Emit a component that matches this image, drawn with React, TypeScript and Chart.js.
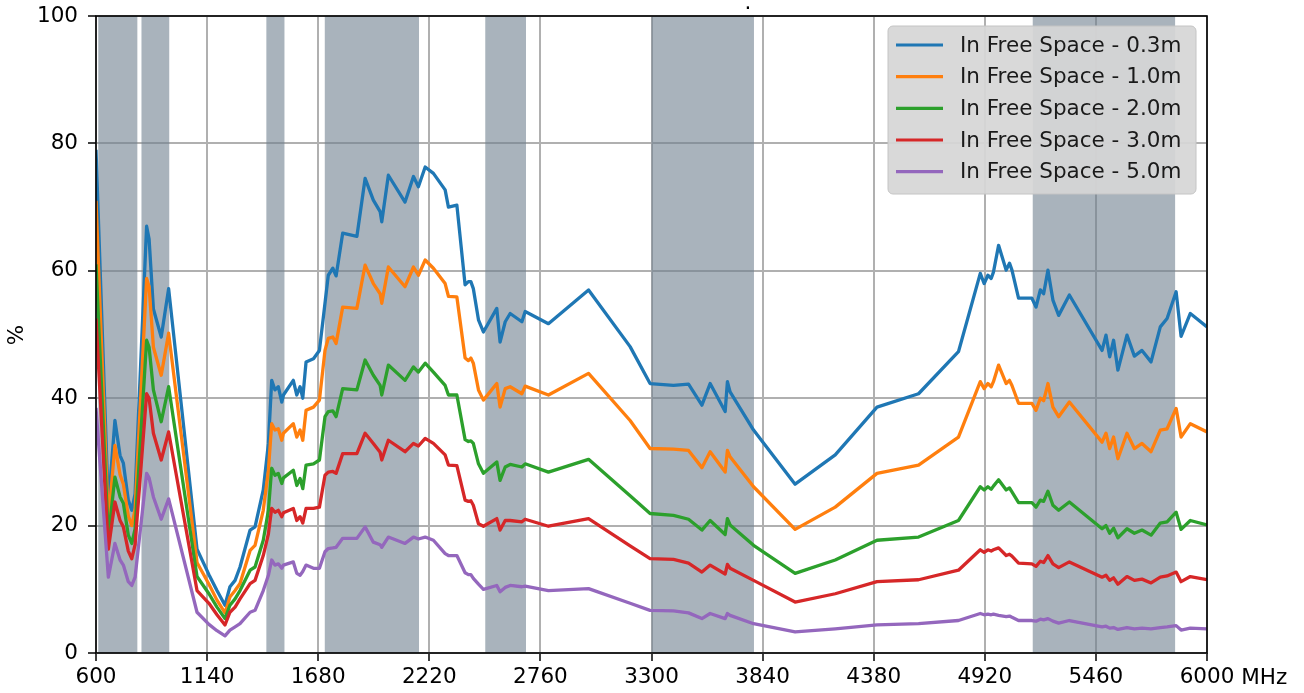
import React, { useEffect, useRef } from "react";
import { Chart, registerables } from "chart.js";

Chart.register(...registerables);

const frequencies = [
  600, 660, 692, 717, 733, 757, 774, 790, 846, 858,
  879, 917, 953, 1091, 1149, 1188, 1227, 1251, 1276, 1300,
  1349, 1373, 1413, 1438, 1454, 1470, 1486, 1503, 1511, 1559,
  1576, 1592, 1605, 1621, 1657, 1686, 1713, 1729, 1751, 1767,
  1799, 1868, 1908, 1948, 1981, 1989, 2021, 2102, 2143, 2167,
  2200, 2240, 2297, 2313, 2354, 2394, 2410, 2422, 2434, 2459,
  2483, 2548, 2564, 2589, 2613, 2670, 2686, 2799, 2994, 3196,
  3293, 3407, 3480, 3545, 3585, 3658, 3669, 3682, 3796, 3998,
  4193, 4396, 4598, 4792, 4898, 4917, 4935, 4951, 4962, 4987,
  5024, 5040, 5052, 5084, 5149, 5169, 5190, 5206, 5227, 5251,
  5279, 5331, 5490, 5509, 5527, 5546, 5567, 5611, 5647, 5684,
  5728, 5773, 5806, 5850, 5874, 5919, 6000,
];

const free03m = [
  79, 23, 36.5, 31, 29.8, 24, 22.4, 25, 67, 65,
  54, 49.6, 57.2, 16.3, 12.3, 9.8, 7.5, 10.4, 11.4, 13.5,
  19.3, 19.8, 25.6, 32.9, 42.8, 41.3, 41.8, 39.4, 40.5, 42.8,
  40.5, 41.8, 40, 45.7, 46.2, 47.5, 54.9, 59.3, 60.4, 59.2,
  65.9, 65.4, 74.5, 71.1, 69.3, 67.7, 75, 70.8, 74.8, 73.2,
  76.3, 75.3, 72.7, 70, 70.3, 57.8, 58.3, 58.3, 57.2, 52.3,
  50.4, 54.1, 48.8, 52, 53.3, 52, 53.6, 51.7, 57, 48.1,
  42.3, 42, 42.2, 38.9, 42.3, 37.9, 42.6, 41, 35, 26.5,
  31.1, 38.6, 40.7, 47.3, 59.6, 58, 59.3, 58.8, 59.8, 64,
  60.1, 61.2, 60.1, 55.7, 55.7, 54.3, 57, 56.4, 60.1, 55.4,
  53, 56.2, 47.5, 49.9, 46.5, 49.1, 44.4, 49.9, 46.6, 47.5,
  45.7, 51.2, 52.5, 56.7, 49.7, 53.3, 51.2,
];

const free10m = [
  71, 20.5, 32.6, 28, 26.5, 21.5, 20, 22.5, 58.8, 57.5,
  48, 43.6, 50.2, 14.2, 10.8, 8.3, 6.3, 8.8, 9.8, 10.9,
  16.1, 16.9, 22.4, 28.7, 36, 35, 35.2, 33.4, 34.5, 36,
  33.9, 35, 33.4, 38.1, 38.6, 39.7, 47.5, 49.4, 49.6, 48.6,
  54.3, 54.1, 60.9, 58, 56.4, 54.9, 60.6, 57.5, 60.6, 59.3,
  61.7, 60.4, 58, 56, 55.9, 46.3, 45.9, 46.3, 45.5, 41.3,
  39.7, 42.3, 38.6, 41.5, 41.8, 40.7, 41.9, 40.5, 43.9, 36.5,
  32.1, 32, 31.8, 29.1, 31.6, 28.4, 31.8, 30.8, 26.1, 19.4,
  22.9, 28.2, 29.5, 33.9, 42.6, 41.5, 42.3, 41.8, 42.6, 45.2,
  42.3, 42.8, 42, 39.2, 39.2, 38.1, 40, 39.6, 42.3, 38.6,
  37.1, 39.4, 33.1, 34.5, 32.1, 33.9, 30.5, 34.5, 32.1, 32.9,
  31.6, 35, 35.2, 38.4, 33.9, 36, 34.7,
];

const free20m = [
  61, 18.2, 27.6, 24.5, 23.5, 18.5, 17.2, 19.5, 49.1, 48,
  41.3, 36.3, 41.8, 12, 9.3, 7.2, 5.4, 7.5, 8.5, 9.8,
  13, 13.5, 17.7, 22.4, 29, 27.9, 28.2, 26.6, 27.5, 28.7,
  26.3, 27.4, 25.8, 29.5, 29.7, 30.3, 37.1, 37.9, 38, 37.1,
  41.5, 41.3, 46, 43.6, 42, 40.5, 45.2, 42.8, 44.9, 44.1,
  45.5, 44.1, 42, 40.5, 40.5, 33.5, 33.2, 33.3, 32.9, 29.7,
  28.2, 30, 27.1, 29.2, 29.6, 29.2, 29.7, 28.4, 30.4, 24.7,
  21.9, 21.6, 21, 19.3, 20.8, 18.6, 21.1, 20.1, 16.9, 12.5,
  14.6, 17.7, 18.2, 20.8, 26.1, 25.6, 26.1, 25.7, 26.2, 27.2,
  25.6, 25.9, 25.3, 23.6, 23.6, 22.9, 24, 23.8, 25.4, 23.2,
  22.4, 23.7, 19.5, 20, 18.8, 19.6, 18.1, 19.5, 18.8, 19.3,
  18.5, 20.4, 20.6, 22.1, 19.4, 20.8, 20.1,
];

const free30m = [
  52.5, 16.3, 23.7, 20.8, 19.8, 16, 14.8, 17, 40.7, 40,
  34.5, 30.3, 34.7, 9.8, 7.8, 6, 4.4, 6.4, 7.2, 8.5,
  10.9, 11.4, 15.3, 18.7, 22.7, 22.1, 22.4, 21.4, 22, 22.7,
  20.8, 21.4, 20.4, 22.7, 22.7, 22.9, 27.9, 28.4, 28.5, 28.2,
  31.3, 31.3, 34.5, 32.9, 31.5, 30.3, 33.4, 31.6, 32.9, 32.5,
  33.7, 32.9, 31.1, 29.5, 29.4, 24, 23.8, 23.9, 23.2, 20.3,
  19.9, 21.1, 19.3, 20.8, 20.8, 20.6, 21, 19.9, 21.1, 16.8,
  14.8, 14.7, 14.1, 12.7, 13.8, 12.4, 13.9, 13.3, 11.4, 8,
  9.3, 11.2, 11.5, 13, 16.2, 15.8, 16.2, 16, 16.2, 16.5,
  15.3, 15.5, 15.2, 14.1, 14, 13.6, 14.4, 14.2, 15.3, 14,
  13.4, 14.3, 11.9, 12.2, 11.4, 11.8, 10.8, 12, 11.4, 11.6,
  11, 11.9, 12.1, 12.7, 11.2, 12, 11.5,
];

const free50m = [
  38.5, 11.9, 17.2, 14.6, 13.8, 11.2, 10.6, 11.9, 28.2, 27.5,
  24.5, 21, 24.2, 6.4, 4.5, 3.5, 2.7, 3.6, 4.1, 4.6,
  6.4, 6.7, 9.8, 12.2, 14.6, 13.8, 14, 13.3, 13.8, 14.3,
  12.5, 12.2, 12.8, 13.8, 13.3, 13.3, 15.9, 16.4, 16.5, 16.6,
  18, 18, 19.8, 17.4, 17, 16.6, 18.2, 17.2, 18.2, 17.9,
  18.2, 17.7, 15.6, 15.3, 15.3, 12.6, 12.3, 12.3, 11.7, 10.8,
  10, 10.6, 9.6, 10.3, 10.6, 10.4, 10.5, 9.8, 10.1, 7.8,
  6.7, 6.6, 6.3, 5.4, 6.2, 5.4, 6.2, 5.9, 4.6, 3.3,
  3.8, 4.4, 4.6, 5.1, 6.2, 6, 6.1, 6, 6.1, 5.9,
  5.7, 5.8, 5.6, 5.1, 5.1, 5, 5.3, 5.2, 5.4, 5,
  4.7, 5.1, 4.1, 4.2, 3.9, 4, 3.7, 4, 3.8, 3.9,
  3.8, 4, 4.1, 4.3, 3.6, 3.9, 3.8,
];

const seriesLabels = [
  "In Free Space - 0.3m",
  "In Free Space - 1.0m",
  "In Free Space - 2.0m",
  "In Free Space - 3.0m",
  "In Free Space - 5.0m",
];
const seriesValues = [free03m, free10m, free20m, free30m, free50m];
const seriesColors = ["#1f77b4", "#ff7f0e", "#2ca02c", "#d62728", "#9467bd"];

const xTicks = [600, 1140, 1680, 2220, 2760, 3300, 3840, 4380, 4920, 5460, 6000];
const yTicks = [0, 20, 40, 60, 80, 100];
const xUnit = "MHz";
const yTitle = "%";
const topMark = ".";

const bandStarts = [611, 821, 1428, 1712, 2492, 3300, 5153];
const bandEnds = [801, 956, 1516, 2170, 2690, 3798, 5845];

const FONT = "21.5px 'DejaVu Sans'";

const decorPlugin = {
  id: "decor",
  beforeDatasetsDraw(chart: any) {
    const { ctx, chartArea, scales } = chart;
    ctx.save();
    ctx.fillStyle = "rgba(112,128,144,0.6)";
    for (let i = 0; i < bandStarts.length; i++) {
      const x1 = scales.x.getPixelForValue(bandStarts[i]);
      const x2 = scales.x.getPixelForValue(bandEnds[i]);
      ctx.fillRect(x1, chartArea.top, x2 - x1, chartArea.bottom - chartArea.top);
    }
    ctx.restore();
  },
  afterDraw(chart: any) {
    const { ctx, chartArea, scales } = chart;
    ctx.save();
    // frame
    ctx.strokeStyle = "#000";
    ctx.lineWidth = 1.6;
    ctx.strokeRect(chartArea.left, chartArea.top, chartArea.right - chartArea.left, chartArea.bottom - chartArea.top);

    ctx.font = FONT;
    ctx.fillStyle = "#000";
    // x unit after last tick label
    const lastX = scales.x.getPixelForValue(xTicks[xTicks.length - 1]);
    const wLast = ctx.measureText(String(xTicks[xTicks.length - 1])).width;
    const wSpace = ctx.measureText(" ").width;
    ctx.textAlign = "left";
    ctx.textBaseline = "middle";
    ctx.fillText(xUnit, lastX + wLast / 2 + wSpace, 678);

    // y title
    ctx.save();
    ctx.translate(17, 335);
    ctx.rotate(-Math.PI / 2);
    ctx.textAlign = "center";
    ctx.textBaseline = "middle";
    ctx.fillText(yTitle, 0, 0);
    ctx.restore();

    // top mark
    ctx.textAlign = "center";
    ctx.textBaseline = "alphabetic";
    ctx.fillText(topMark, 748, 9);

    // legend
    const lx = 888, ly = 26, lw = 308, lh = 168, r = 5;
    ctx.beginPath();
    ctx.moveTo(lx + r, ly);
    ctx.arcTo(lx + lw, ly, lx + lw, ly + lh, r);
    ctx.arcTo(lx + lw, ly + lh, lx, ly + lh, r);
    ctx.arcTo(lx, ly + lh, lx, ly, r);
    ctx.arcTo(lx, ly, lx + lw, ly, r);
    ctx.closePath();
    ctx.fillStyle = "rgba(214,214,214,0.93)";
    ctx.fill();
    ctx.strokeStyle = "#c4c4c4";
    ctx.lineWidth = 1;
    ctx.stroke();

    const rows = [45, 76.7, 108.3, 140, 171.7];
    for (let i = 0; i < seriesLabels.length; i++) {
      ctx.strokeStyle = seriesColors[i];
      ctx.lineWidth = 3.2;
      ctx.beginPath();
      ctx.moveTo(896, rows[i]);
      ctx.lineTo(943, rows[i]);
      ctx.stroke();
      ctx.fillStyle = "#1a1a1a";
      ctx.textAlign = "left";
      ctx.textBaseline = "middle";
      ctx.fillText(seriesLabels[i], 960, rows[i] + 1);
    }
    ctx.restore();
  },
};

export default function App() {
  const ref = useRef<HTMLCanvasElement>(null);

  useEffect(() => {
    document.body.style.margin = "0";
    const canvas = ref.current;
    if (!canvas) return;
    const datasets = seriesLabels.map((label, i) => ({
      label,
      data: frequencies.map((f, j) => ({ x: f, y: seriesValues[i][j] })),
      borderColor: seriesColors[i],
      backgroundColor: seriesColors[i],
      borderWidth: 3.3,
      pointRadius: 0,
      tension: 0,
      borderJoinStyle: "round" as const,
      order: seriesLabels.length - 1 - i,
    }));

    const chart = new Chart(canvas, {
      type: "line",
      data: { datasets },
      options: {
        animation: false,
        responsive: false,
        devicePixelRatio: 1,
        layout: { padding: { left: 0, right: 97, top: 16, bottom: 0 } },
        plugins: {
          legend: { display: false },
          tooltip: { enabled: false },
          title: { display: false },
        },
        scales: {
          x: {
            type: "linear",
            min: 600,
            max: 6000,
            afterBuildTicks: (s: any) => {
              s.ticks = xTicks.map((v) => ({ value: v }));
            },
            afterFit: (s: any) => {
              s.height = 40;
              s.paddingLeft = 0;
              s.paddingRight = 0;
              s.paddingTop = 0;
              s.paddingBottom = 0;
            },
            grid: {
              color: "#b0b0b0",
              lineWidth: 2,
              tickLength: 8,
              tickColor: "#000",
              tickWidth: 1.5,
            },
            border: { display: false },
            ticks: {
              autoSkip: false,
              maxRotation: 0,
              color: "#000",
              padding: 4,
              font: { family: "'DejaVu Sans'", size: 21.5 },
              callback: (v: any) => String(v),
            },
          },
          y: {
            type: "linear",
            min: 0,
            max: 100,
            afterBuildTicks: (s: any) => {
              s.ticks = yTicks.map((v) => ({ value: v }));
            },
            afterFit: (s: any) => {
              s.width = 96;
              s.paddingTop = 0;
              s.paddingBottom = 0;
              s.paddingLeft = 0;
              s.paddingRight = 0;
            },
            grid: {
              color: "#b0b0b0",
              lineWidth: 2,
              tickLength: 8,
              tickColor: "#000",
              tickWidth: 1.5,
            },
            border: { display: false },
            ticks: {
              color: "#000",
              padding: 10,
              font: { family: "'DejaVu Sans'", size: 21.5 },
              callback: (v: any) => String(v),
            },
          },
        },
      },
      plugins: [decorPlugin],
    });
    return () => chart.destroy();
  }, []);

  return (
    <div style={{ width: 1304, height: 693, background: "#fff" }}>
      <canvas ref={ref} width={1304} height={693} style={{ display: "block", width: 1304, height: 693 }} />
    </div>
  );
}
